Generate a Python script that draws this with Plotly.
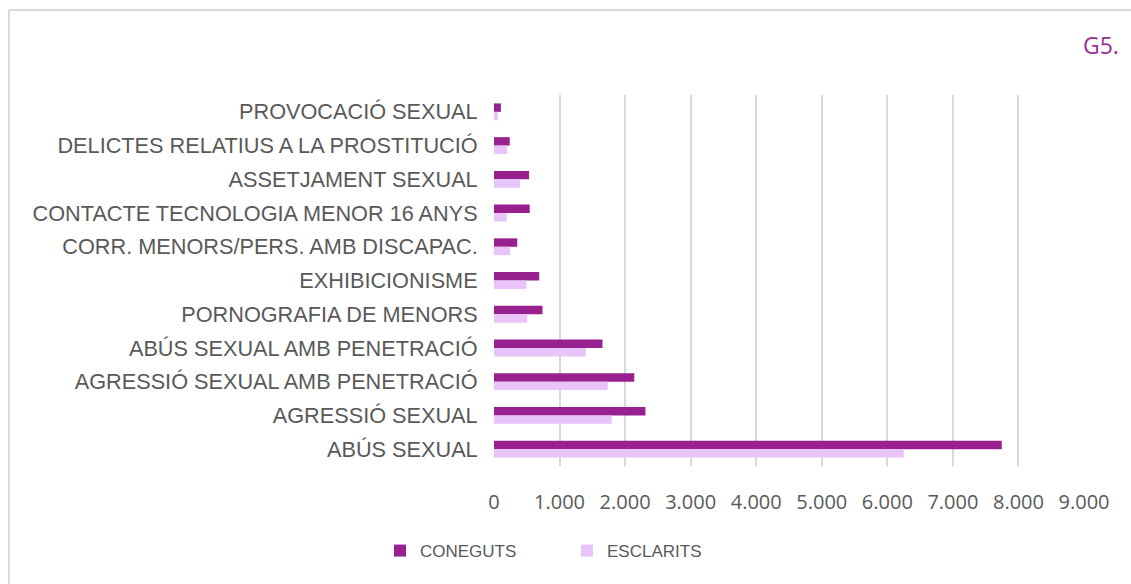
import plotly.graph_objects as go

categories = [
    "PROVOCACIÓ SEXUAL",
    "DELICTES RELATIUS A LA PROSTITUCIÓ",
    "ASSETJAMENT SEXUAL",
    "CONTACTE TECNOLOGIA MENOR 16 ANYS",
    "CORR. MENORS/PERS. AMB DISCAPAC.",
    "EXHIBICIONISME",
    "PORNOGRAFIA DE MENORS",
    "ABÚS SEXUAL AMB PENETRACIÓ",
    "AGRESSIÓ SEXUAL AMB PENETRACIÓ",
    "AGRESSIÓ SEXUAL",
    "ABÚS SEXUAL",
]
coneguts = [105, 240, 535, 545, 355, 690, 740, 1655, 2140, 2310, 7745]
esclarits = [60, 200, 400, 195, 245, 495, 505, 1400, 1735, 1795, 6250]

tick_vals = [0, 1000, 2000, 3000, 4000, 5000, 6000, 7000, 8000, 9000]
tick_text = ["0", "1.000", "2.000", "3.000", "4.000", "5.000", "6.000", "7.000", "8.000", "9.000"]

fig = go.Figure()
fig.add_trace(go.Bar(y=categories, x=coneguts, name="CONEGUTS", orientation="h",
                     marker=dict(color="#98208F", line=dict(width=0))))
fig.add_trace(go.Bar(y=categories, x=esclarits, name="ESCLARITS", orientation="h",
                     marker=dict(color="#E8C4FA", line=dict(width=0))))

W, H = 1131, 584
L, R, T, B = 494, 47, 95, 118
pw, ph = W - L - R, H - T - B

def px(x):
    return (x - L) / pw

def py(y):
    return (H - B - y) / ph

fig.update_layout(
    width=W, height=H,
    margin=dict(l=L, r=R, t=T, b=B),
    paper_bgcolor="white", plot_bgcolor="white",
    barmode="group", bargap=0.5, bargroupgap=0,
    font=dict(family="Liberation Sans, Arial", color="#595959"),
    showlegend=True,
    legend=dict(orientation="h", x=px(380), xanchor="left", y=py(533), yanchor="top",
                font=dict(size=17, color="#595959", family="Liberation Sans, Arial"),
                entrywidth=142, traceorder="normal"),
    xaxis=dict(range=[0, 9000], tickvals=tick_vals, ticktext=tick_text,
               showgrid=True, gridcolor="#D9D9D9", gridwidth=1.5,
               zeroline=False, showline=False,
               ticks="outside", ticklen=18, tickcolor="rgba(0,0,0,0)",
               tickfont=dict(size=20, family="Open Sans", color="#595959")),
    yaxis=dict(autorange="reversed", showgrid=False, zeroline=False, showline=False,
               ticks="outside", ticklen=11, tickcolor="rgba(0,0,0,0)",
               tickfont=dict(size=21.7, family="Liberation Sans, Arial", color="#595959")),
    shapes=[
        dict(type="line", xref="paper", yref="paper", x0=px(9), x1=px(1131), y0=py(10), y1=py(10),
             line=dict(color="#D9D9D9", width=2)),
        dict(type="line", xref="paper", yref="paper", x0=px(9), x1=px(9), y0=py(10), y1=py(584),
             line=dict(color="#D9D9D9", width=2)),
    ],
    annotations=[
        dict(text="G5.", xref="paper", yref="paper", x=px(1121), y=py(45),
             xanchor="right", yanchor="middle", showarrow=False,
             font=dict(size=23, color="#9B2D96", family="Open Sans")),
    ],
)

fig.write_html("out.html", config={"displayModeBar": False},
               post_script="document.body.style.margin='0px';")
